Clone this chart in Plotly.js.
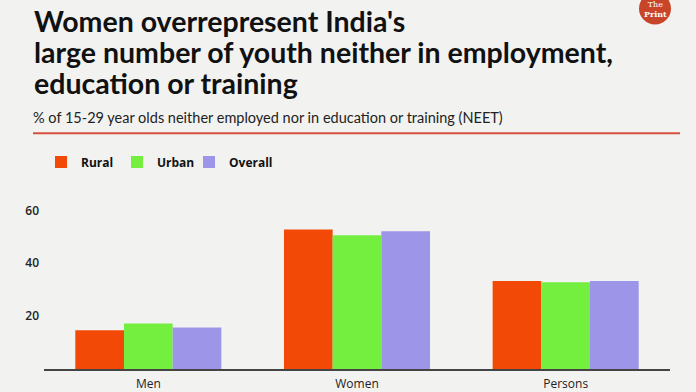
<!DOCTYPE html>
<html>
<head>
<meta charset="utf-8">
<script src="https://cdn.plot.ly/plotly-3.0.1.min.js"></script>
<style>html,body{margin:0;padding:0;background:#f2f2f1;}#chart{width:696px;height:392px;}</style>
</head>
<body>
<div id="chart"></div>
<script>
const categories = ["Men", "Women", "Persons"];
const rural = [14.7, 52.8, 33.3];
const urban = [17.2, 50.6, 32.8];
const overall = [15.7, 52.1, 33.3];
const seriesNames = ["Rural", "Urban", "Overall"];
const yTicks = [20, 40, 60];
const titleLines = [
  "Women overrepresent India's",
  "large number of youth neither in employment,",
  "education or training"
];
const subtitle = "% of 15-29 year olds neither employed nor in education or training (NEET)";

const colors = ["#f24a06", "#74ee3f", "#9d95e8"];
const allSeries = [rural, urban, overall];
const legendIds = ["legend", "legend2", "legend3"];
const legendX = [41, 117, 189];

const W = 696, H = 392, ML = 44, MR = 26, MT = 184, MB = 22.5;
const PW = W - ML - MR, PH = H - MT - MB;
const px = x => (x - ML) / PW;
const py = y => (H - MB - y) / PH;

const data = allSeries.map((vals, i) => ({
  type: "bar",
  name: seriesNames[i],
  x: categories,
  y: vals,
  legend: legendIds[i],
  marker: {color: colors[i], line: {width: 0}},
  hoverinfo: "none"
}));

const titleY = [21, 52, 83];
const annotations = titleLines.map((t, i) => ({
  text: t,
  xref: "paper", yref: "paper",
  x: px(32), xanchor: "left",
  y: py(titleY[i]), yanchor: "middle",
  showarrow: false,
  font: {family: "Lato", size: 28.5, color: "#111", weight: 700}
}));
annotations.push({
  text: subtitle,
  xref: "paper", yref: "paper",
  x: px(31), xanchor: "left",
  y: py(117), yanchor: "middle",
  showarrow: false,
  font: {family: "Lato", size: 14.5, color: "#222"}
});
annotations.push({
  text: "The<br><b>Print</b>",
  xref: "paper", yref: "paper",
  x: px(655), xanchor: "center",
  y: py(9), yanchor: "middle",
  showarrow: false,
  font: {family: "DejaVu Serif", size: 8, color: "#fff"}
});

const layout = {
  width: W,
  height: H,
  paper_bgcolor: "#f2f2f1",
  plot_bgcolor: "#f2f2f1",
  margin: {l: ML, r: MR, t: MT, b: MB, pad: 0},
  barmode: "group",
  bargap: 0.3,
  bargroupgap: 0,
  showlegend: true,
  xaxis: {
    type: "category",
    range: [-0.5, 2.5],
    showline: true,
    linecolor: "#444",
    linewidth: 1.5,
    ticks: "",
    showgrid: false,
    zeroline: false,
    tickfont: {family: "Open Sans", size: 12, color: "#222"},
    ticklabelstandoff: 3,
    fixedrange: true
  },
  yaxis: {
    range: [0, 70],
    tickvals: yTicks,
    ticktext: yTicks.map(String),
    showline: false,
    showgrid: false,
    zeroline: false,
    ticks: "",
    ticklabelstandoff: 4,
    tickfont: {family: "Open Sans", size: 12, color: "#222", weight: 600},
    fixedrange: true
  },
  annotations: annotations,
  shapes: [
    {
      type: "line", xref: "paper", yref: "paper",
      x0: px(33), x1: px(680),
      y0: py(133), y1: py(133),
      line: {color: "#d6503f", width: 2}
    },
    {
      type: "circle", xref: "paper", yref: "paper",
      x0: px(639), x1: px(671),
      y0: py(24), y1: py(-8),
      fillcolor: "#c8452a", line: {width: 0}
    }
  ]
};

legendIds.forEach((id, i) => {
  layout[id] = {
    orientation: "h",
    x: px(legendX[i]), xanchor: "left",
    y: py(162), yanchor: "middle",
    font: {family: "Open Sans", size: 12, color: "#111", weight: 700},
    bgcolor: "rgba(0,0,0,0)",
    itemclick: false
  };
});

Plotly.newPlot("chart", data, layout, {displayModeBar: false, staticPlot: true});
</script>
</body>
</html>
